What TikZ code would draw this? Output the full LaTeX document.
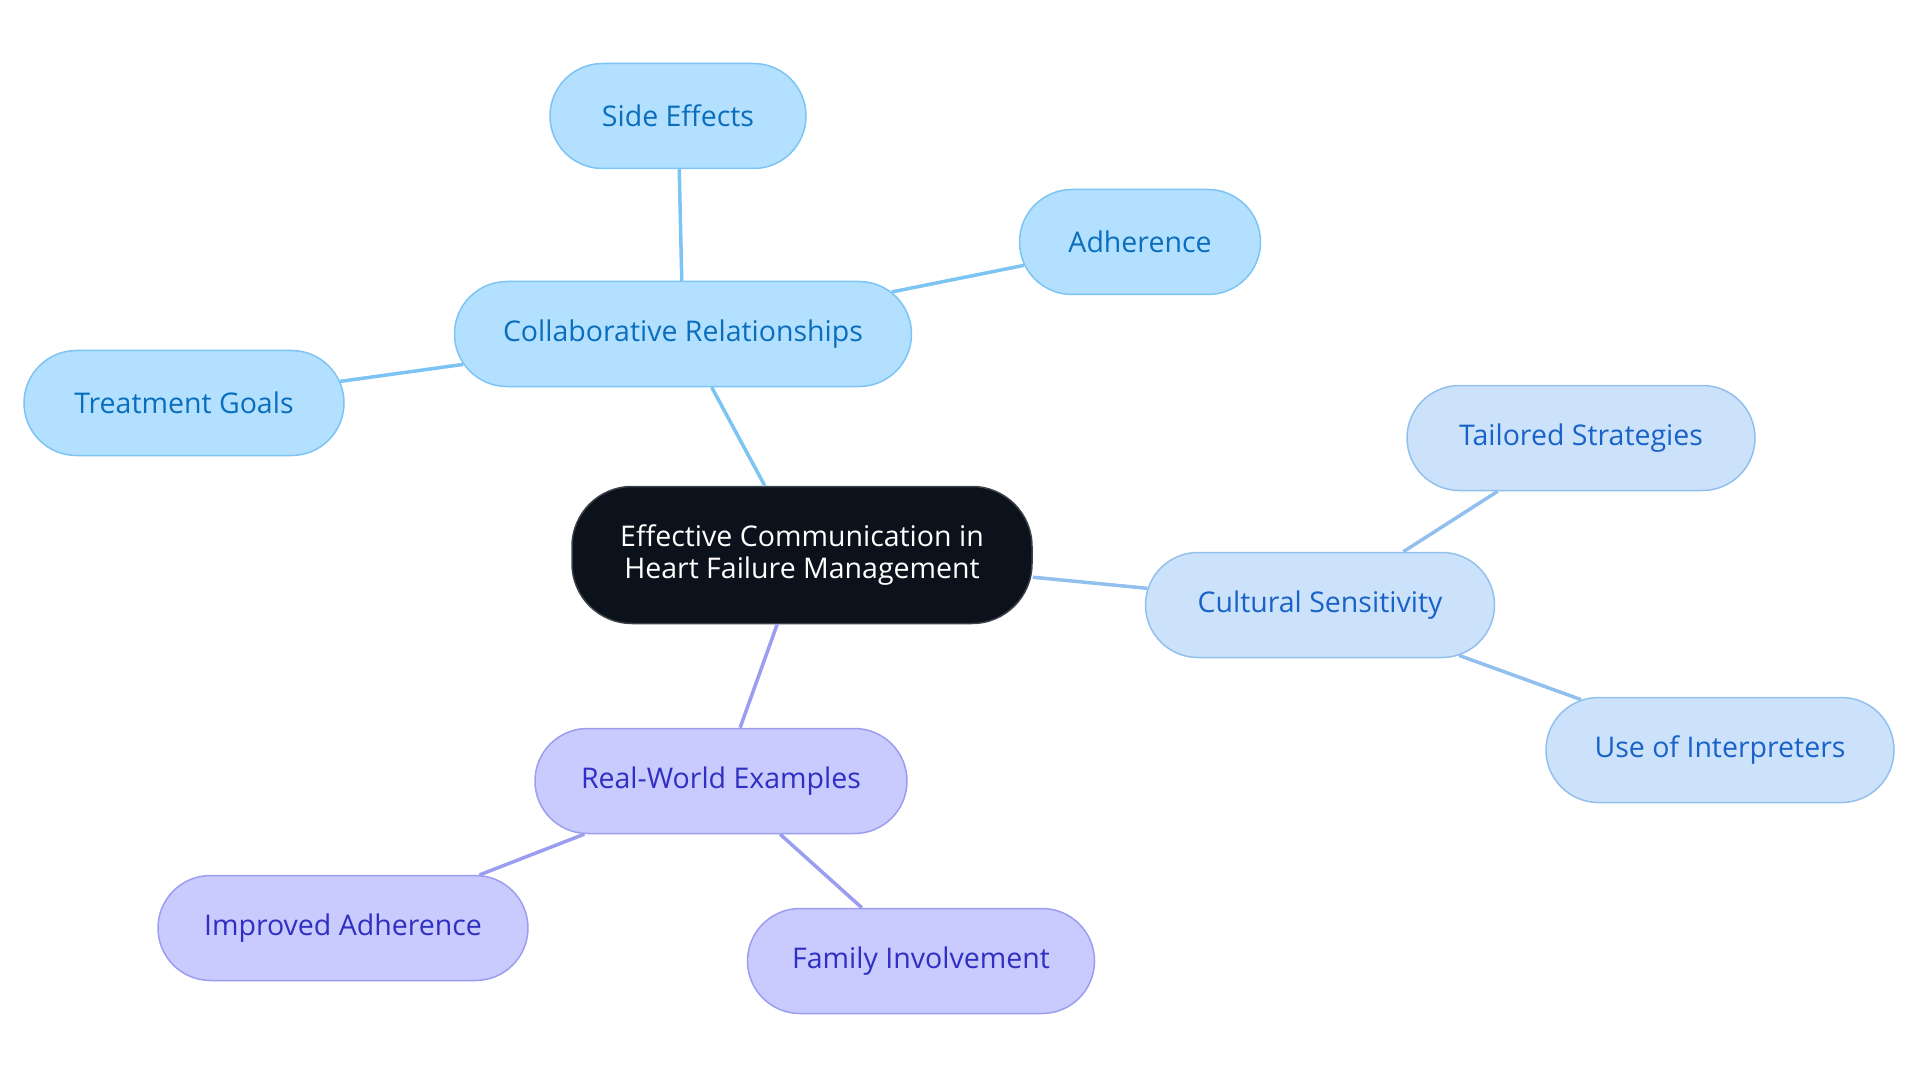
\documentclass[tikz,border=0pt]{standalone}
\usepackage{fontspec}
\setmainfont{Open Sans}
\usepackage{tikz}
\usetikzlibrary{positioning,shapes.misc}
\definecolor{CentroOscuro}{HTML}{0B121B}
\definecolor{AzulFondo}{HTML}{B3E0FF}
\definecolor{AzulBorde}{HTML}{7CC4F4}
\definecolor{AzulTexto}{HTML}{0A6EBD}
\definecolor{CelesteFondo}{HTML}{CCE2FA}
\definecolor{CelesteBorde}{HTML}{92C0EE}
\definecolor{CelesteTexto}{HTML}{1862C8}
\definecolor{LilaFondo}{HTML}{C9CAFE}
\definecolor{LilaBorde}{HTML}{9B9DF0}
\definecolor{LilaTexto}{HTML}{2F2FC2}

\tikzset{
  base/.style={rounded rectangle,minimum height=105pt,line width=1.5pt,
    font=\fontsize{28.5}{33}\selectfont,align=center,inner sep=0pt},
  centro/.style={rectangle,rounded corners=60pt,fill=CentroOscuro,draw=CentroOscuro!80!white,
    text=white,minimum height=137pt,minimum width=460pt,line width=1.5pt,
    font=\fontsize{28.5}{32}\selectfont,align=center,inner sep=0pt},
  azul/.style={base,fill=AzulFondo,draw=AzulBorde,text=AzulTexto},
  celeste/.style={base,fill=CelesteFondo,draw=CelesteBorde,text=CelesteTexto},
  lila/.style={base,fill=LilaFondo,draw=LilaBorde,text=LilaTexto},
  rama/.style={line width=3.5pt}
}

\begin{document}
\begin{tikzpicture}[x=1pt,y=-1pt]
  \useasboundingbox (0,0) rectangle (1920,1083);

  \node[centro] (C) at (802,555) {Effective Communication in\\Heart Failure Management};

  % rama azul
  \node[azul,minimum width=457pt] (CR) at (683,334) {Collaborative Relationships};
  \node[azul,minimum width=256pt] (SE) at (678,116) {Side Effects};
  \node[azul,minimum width=241pt] (AD) at (1140,242) {Adherence};
  \node[azul,minimum width=320pt] (TG) at (184,403) {Treatment Goals};

  % rama celeste
  \node[celeste,minimum width=349pt] (CS) at (1320,605) {Cultural Sensitivity};
  \node[celeste,minimum width=348pt] (TS) at (1581,438) {Tailored Strategies};
  \node[celeste,minimum width=348pt] (UI) at (1720,750) {Use of Interpreters};

  % rama lila
  \node[lila,minimum width=372pt] (RW) at (721,781) {Real-World Examples};
  \node[lila,minimum width=370pt] (IA) at (343,928) {Improved Adherence};
  \node[lila,minimum width=347pt] (FI) at (921,961) {Family Involvement};

  \draw[rama,AzulBorde] (C) -- (CR);
  \draw[rama,AzulBorde] (CR) -- (SE);
  \draw[rama,AzulBorde] (CR) -- (AD);
  \draw[rama,AzulBorde] (CR) -- (TG);
  \draw[rama,CelesteBorde] (C) -- (CS);
  \draw[rama,CelesteBorde] (CS) -- (TS);
  \draw[rama,CelesteBorde] (CS) -- (UI);
  \draw[rama,LilaBorde] (C) -- (RW);
  \draw[rama,LilaBorde] (RW) -- (IA);
  \draw[rama,LilaBorde] (RW) -- (FI);
\end{tikzpicture}
\end{document}
